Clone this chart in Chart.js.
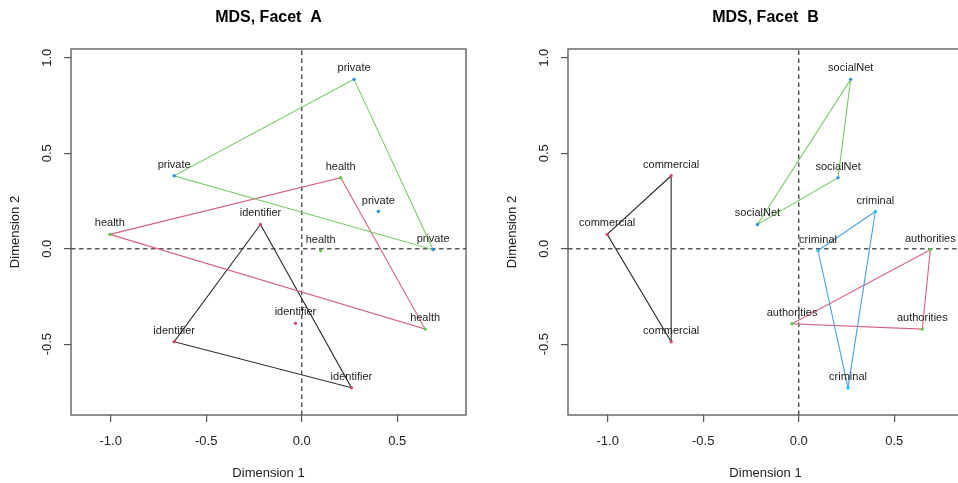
<!DOCTYPE html>
<html>
<head>
<meta charset="utf-8">
<title>MDS, Facet A / B</title>
<script src="https://cdn.jsdelivr.net/npm/chart.js@4.4.0/dist/chart.umd.min.js"></script>
<style>
  html, body { margin: 0; background: #fff; }
  body { width: 958px; height: 483px; overflow: hidden; position: relative; }
  canvas { position: absolute; top: 0; }
  #facetA { left: 0; }
  #facetB { left: 497px; }
</style>
</head>
<body>
<canvas id="facetA" width="497" height="483"></canvas>
<canvas id="facetB" width="497" height="483"></canvas>
<script>
// axis limits and ticks, same for both panels
const xMin = -1.208, xMax = 0.86;
const yMin = -0.871, yMax = 1.046;
const xTicks = [-1.0, -0.5, 0.0, 0.5];
const yTicks = [-0.5, 0.0, 0.5, 1.0];

// Facet A
const privX = [0.274, -0.668, 0.688];
const privY = [0.887, 0.382, -0.005];
const healthX = [-1.005, 0.204, 0.646];
const healthY = [0.075, 0.372, -0.421];
const identX = [-0.216, -0.668, 0.260];
const identY = [0.127, -0.487, -0.728];
const soloNames = ['private', 'health', 'identifier'];
const soloX = [0.401, 0.099, -0.033];
const soloY = [0.195, -0.010, -0.391];

// Facet B
const socialX = [0.272, 0.206, -0.216];
const socialY = [0.887, 0.372, 0.127];
const commX = [-0.668, -1.003, -0.668];
const commY = [0.382, 0.075, -0.487];
const crimX = [0.401, 0.101, 0.258];
const crimY = [0.195, -0.010, -0.728];
const authX = [0.689, 0.647, -0.035];
const authY = [-0.005, -0.421, -0.393];

// line colours are a bit softer than the point colours
const lineBlack = '#2a2a2a', lineRed = '#d6637c', lineGreen = '#7ccb6c', lineBlue = '#4ca0e2';
const red = '#d94a64', green = '#5cc94a', blue = '#2297E6', cyan = '#22C4E8';
const fontFam = '"Liberation Sans", Arial, sans-serif';
Chart.defaults.font.family = fontFam;

function pts(xs, ys) {
  return xs.map((x, i) => ({ x: x, y: ys[i] }));
}

function triangle(xs, ys, color) {
  const d = pts(xs, ys);
  d.push(d[0]);
  return { data: d, showLine: true, borderColor: color, borderWidth: 1.1, pointRadius: 0, order: 2 };
}

function dots(xs, ys, names, color) {
  return {
    data: pts(xs, ys), names: names, showLine: false,
    pointRadius: 1.7, pointBackgroundColor: color, pointBorderColor: color, pointBorderWidth: 0, order: 1
  };
}

function zeroLines() {
  const dash = { showLine: true, borderColor: '#5a5a5a', borderWidth: 1.5, borderDash: [4.5, 3.5], pointRadius: 0, order: 3 };
  return [
    Object.assign({ data: [{ x: 0, y: yMin }, { x: 0, y: yMax }] }, dash),
    Object.assign({ data: [{ x: xMin, y: 0 }, { x: xMax, y: 0 }] }, dash)
  ];
}

const same = (name, n) => Array(n).fill(name);

// text above each point
const nameLabels = {
  id: 'nameLabels',
  afterDatasetsDraw(chart) {
    const ctx = chart.ctx;
    ctx.save();
    ctx.font = '11px ' + fontFam;
    ctx.fillStyle = '#222';
    ctx.textAlign = 'center';
    ctx.textBaseline = 'middle';
    chart.data.datasets.forEach((ds, i) => {
      if (!ds.names) return;
      chart.getDatasetMeta(i).data.forEach((pt, j) => {
        ctx.fillText(ds.names[j], pt.x, pt.y - 11);
      });
    });
    ctx.restore();
  }
};

// box round the plot region
const frame = {
  id: 'frame',
  afterDraw(chart) {
    const a = chart.chartArea, ctx = chart.ctx;
    ctx.save();
    ctx.strokeStyle = '#555';
    ctx.lineWidth = 1.3;
    ctx.strokeRect(a.left, a.top, a.right - a.left, a.bottom - a.top);
    ctx.restore();
  }
};

function makeChart(id, title, datasets) {
  const tickFont = { size: 13, family: fontFam };
  return new Chart(document.getElementById(id), {
    type: 'scatter',
    data: { datasets: zeroLines().concat(datasets) },
    options: {
      responsive: false,
      animation: false,
      events: [],
      layout: { padding: { left: 0, right: 31, top: 0, bottom: 0 } },
      plugins: {
        legend: { display: false },
        tooltip: { enabled: false },
        title: {
          display: true, text: title, fullSize: false, color: '#000',
          font: { size: 16, weight: 'bold', family: fontFam },
          padding: { top: 7.5, bottom: 22.3 }
        }
      },
      scales: {
        x: {
          type: 'linear', min: xMin, max: xMax,
          afterBuildTicks: s => { s.ticks = xTicks.map(v => ({ value: v })); },
          afterFit: s => { s.height = 68; },
          grid: { drawOnChartArea: false, drawTicks: true, tickLength: 7, color: '#555', lineWidth: 1.2 },
          border: { display: false },
          ticks: { padding: 11.2, font: tickFont, color: '#222', autoSkip: false, maxRotation: 0,
                   callback: v => v.toFixed(1) },
          title: { display: true, text: 'Dimension 1', color: '#222', font: tickFont, padding: { top: 0, bottom: 2.2 } }
        },
        y: {
          type: 'linear', min: yMin, max: yMax,
          afterBuildTicks: s => { s.ticks = yTicks.map(v => ({ value: v })); },
          afterFit: s => { s.width = 71; },
          grid: { drawOnChartArea: false, drawTicks: true, tickLength: 7, color: '#555', lineWidth: 1.2 },
          border: { display: false },
          ticks: { padding: 5, font: tickFont, color: '#222', autoSkip: false,
                   minRotation: 90, maxRotation: 90, crossAlign: 'center',
                   callback: v => v.toFixed(1) },
          title: { display: true, text: 'Dimension 2', color: '#222', font: tickFont, padding: { top: 7.2, bottom: 0 } }
        }
      }
    },
    plugins: [frame, nameLabels]
  });
}

makeChart('facetA', 'MDS, Facet  A', [
  triangle(privX, privY, lineGreen),
  triangle(healthX, healthY, lineRed),
  triangle(identX, identY, lineBlack),
  dots(privX, privY, same('private', 3), blue),
  dots(healthX, healthY, same('health', 3), green),
  dots(identX, identY, same('identifier', 3), red),
  dots(soloX, soloY, soloNames, [blue, green, red])
]);

makeChart('facetB', 'MDS, Facet  B', [
  triangle(socialX, socialY, lineGreen),
  triangle(commX, commY, lineBlack),
  triangle(crimX, crimY, lineBlue),
  triangle(authX, authY, lineRed),
  dots(socialX, socialY, same('socialNet', 3), blue),
  dots(commX, commY, same('commercial', 3), red),
  dots(crimX, crimY, same('criminal', 3), cyan),
  dots(authX, authY, same('authorities', 3), green)
]);
</script>
</body>
</html>
